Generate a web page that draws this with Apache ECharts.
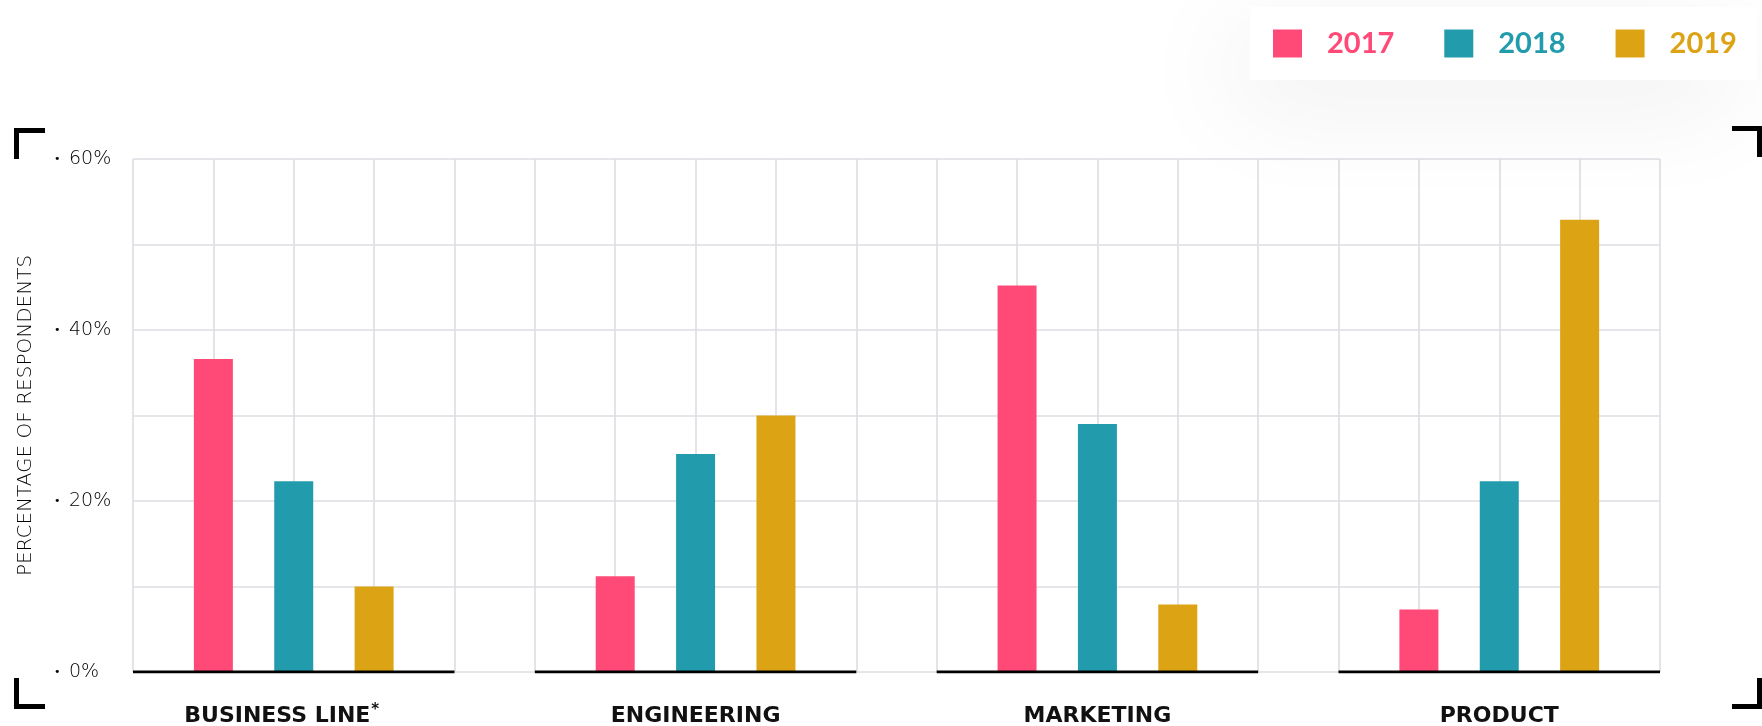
<!DOCTYPE html>
<html>
<head>
<meta charset="utf-8">
<title>Percentage of respondents by department, 2017–2019</title>
<script src="https://cdn.jsdelivr.net/npm/echarts@6/dist/echarts.min.js"></script>
<style>
  html, body { margin: 0; padding: 0; background: #ffffff; }
  #chart { width: 1762px; height: 726px; }
</style>
</head>
<body>
<div id="chart"></div>
<script>
// Departments along the x axis
const categories = ['BUSINESS LINE*', 'ENGINEERING', 'MARKETING', 'PRODUCT'];
// Survey years
const years = ['2017', '2018', '2019'];
// Share of respondents (%) per department, one array per year
const values2017 = [36.6, 11.2, 45.2, 7.3];
const values2018 = [22.3, 25.5, 29.0, 22.3];
const values2019 = [10.0, 30.0, 7.9, 52.9];
// Y axis tick labels (every 20%)
const yTicks = [0, 20, 40, 60];

const seriesValues = [values2017, values2018, values2019];
const colors = ['#ff4a77', '#229cac', '#dca314'];

// Each department occupies 4 grid columns, with one empty column between departments.
const GROUP_SPAN = 5;
const groupStart = i => i * GROUP_SPAN;
const xMax = groupStart(categories.length - 1) + 4;

// label lookup: department names sit at the centre of each group;
// a trailing asterisk is set as a superscript
const labelAt = {};
categories.forEach((c, i) => {
  const m = c.match(/^(.*?)(\*)$/);
  labelAt[groupStart(i) + 2] = m ? '{n|' + m[1] + '}{s|' + m[2] + '}' : '{n|' + c + '}';
});

// thick baseline under each group, broken between groups
const baseline = [];
categories.forEach((c, i) => {
  if (i > 0) baseline.push([groupStart(i) - 0.5, '-']);
  baseline.push([groupStart(i), 0], [groupStart(i) + 4, 0]);
});

const barSeries = years.map((y, s) => ({
  name: y,
  type: 'bar',
  barWidth: 39,
  barGap: '-100%',
  itemStyle: { color: colors[s] },
  data: seriesValues[s].map((v, i) => [groupStart(i) + 1 + s, v]),
  z: 2
}));

const chart = echarts.init(document.getElementById('chart'), null, { renderer: 'canvas' });

const gridLine = { show: true, lineStyle: { color: '#dedde3', width: 1.6 } };

// corner bracket helper
const bracket = (pts) => ({
  type: 'polyline',
  shape: { points: pts },
  style: { stroke: '#000', lineWidth: 5, fill: null, lineJoin: 'miter', lineCap: 'butt' },
  silent: true
});

const labelFont = '"DejaVu Sans", sans-serif';

chart.setOption({
  animation: false,
  backgroundColor: '#ffffff',
  grid: { left: 133, right: 102, top: 159, bottom: 54, containLabel: false, outerBoundsMode: 'none' },
  legend: {
    data: years,
    orient: 'horizontal',
    left: 1250,
    top: 7,
    width: 500,
    padding: [22, 20, 22, 23],
    itemWidth: 29,
    itemHeight: 28,
    itemGap: 50,
    icon: 'rect',
    backgroundColor: '#ffffff',
    shadowBlur: 110,
    shadowColor: 'rgba(0,0,0,0.07)',
    shadowOffsetY: 25,
    shadowOffsetX: -20,
    selectedMode: false,
    textStyle: {
      fontFamily: 'Lato, "Open Sans", sans-serif',
      fontWeight: 'bold',
      fontSize: 29,
      padding: [0, 0, 0, 20],
      color: 'inherit'
    }
  },
  xAxis: {
    type: 'value',
    min: 0,
    max: xMax,
    interval: 1,
    axisLine: { show: false },
    axisTick: { show: false },
    splitLine: gridLine,
    axisLabel: {
      margin: 31,
      showMinLabel: true,
      showMaxLabel: true,
      formatter: v => labelAt[v] || '',
      rich: {
        n: { fontFamily: labelFont, fontWeight: 'bold', fontSize: 22, color: '#111', lineHeight: 26 },
        s: { fontFamily: labelFont, fontWeight: 'bold', fontSize: 15, color: '#111', lineHeight: 26, verticalAlign: 'top', padding: [0, 24, 8, 1] }
      }
    }
  },
  yAxis: {
    type: 'value',
    min: 0,
    max: yTicks[yTicks.length - 1],
    interval: 10,
    name: 'PERCENTAGE OF RESPONDENTS',
    nameLocation: 'middle',
    nameRotate: 90,
    nameGap: 97,
    nameTextStyle: {
      fontFamily: labelFont,
      fontWeight: 200,
      fontSize: 20,
      color: '#000'
    },
    axisLine: { show: false },
    axisTick: { show: false },
    splitLine: gridLine,
    axisLabel: {
      align: 'left',
      margin: 79,
      formatter: v => yTicks.indexOf(v) >= 0 ? '{d|•}{v|' + v + '%}' : '',
      rich: {
        d: { fontSize: 11, width: 15, color: '#000', fontFamily: labelFont },
        v: { fontSize: 19, fontWeight: 200, color: '#000', fontFamily: labelFont }
      }
    }
  },
  series: [
    ...barSeries,
    {
      type: 'line',
      data: baseline,
      symbol: 'none',
      connectNulls: false,
      silent: true,
      lineStyle: { color: '#000', width: 3 },
      z: 5
    }
  ],
  graphic: [
    bracket([[16.5, 159], [16.5, 130.5], [45, 130.5]]),
    bracket([[16.5, 678], [16.5, 706.5], [45, 706.5]]),
    bracket([[1732, 128.5], [1759.5, 128.5], [1759.5, 157]]),
    bracket([[1759.5, 678], [1759.5, 706.5], [1732, 706.5]])
  ]
});
</script>
</body>
</html>
